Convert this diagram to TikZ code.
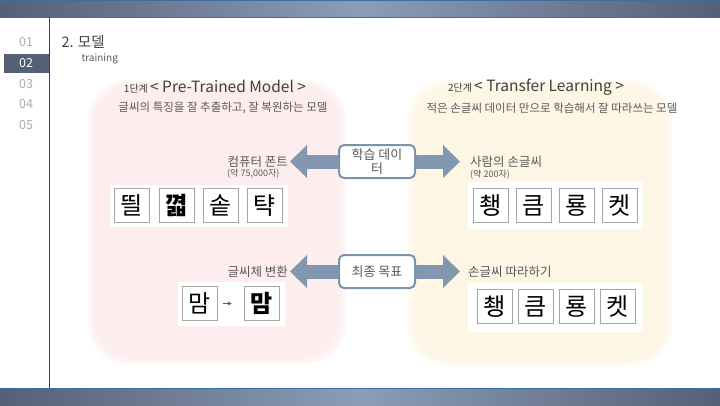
\documentclass[tikz,border=0pt]{standalone}
\usepackage{fontspec}
\setmainfont{Noto Sans CJK KR}
\usetikzlibrary{arrows.meta,backgrounds}
\definecolor{bardark}{RGB}{84, 96, 117}
\definecolor{barlight}{RGB}{140, 157, 184}
\definecolor{barline}{RGB}{62, 108, 165}
\definecolor{numgray}{RGB}{170, 170, 170}
\definecolor{textgray}{RGB}{89, 89, 89}
\definecolor{titlegray}{RGB}{64, 64, 64}
\definecolor{pinkzone}{RGB}{253, 235, 236}
\definecolor{creamzone}{RGB}{254, 245, 226}
\definecolor{arrowblue}{RGB}{132, 151, 176}
\definecolor{boxblue}{RGB}{127, 146, 172}

\tikzset{
  navnum/.style={font=\fontsize{12.5}{14}\selectfont},
  desctext/.style={text=textgray, font=\fontsize{11.5}{13}\selectfont},
  lbltext/.style={text=textgray, inner sep=2pt, font=\fontsize{12.5}{14}\selectfont},
  cnttext/.style={text=textgray, inner sep=2pt, font=\fontsize{9}{10}\selectfont},
  midbox/.style={draw=boxblue, line width=2pt, rounded corners=5pt, fill=white,
    minimum width=76pt, minimum height=33pt, align=center, text=textgray,
    font=\fontsize{13}{14}\selectfont},
  blockarrow/.style={line width=14pt, arrowblue, -{Triangle[width=32pt,length=17pt]}},
  glyph/.style={draw=gray!70, line width=0.8pt, fill=white, minimum width=35pt,
    minimum height=34pt, inner sep=0pt, font=\fontsize{24}{24}\selectfont}
}

\begin{document}
\begin{tikzpicture}[x=1pt, y=-1pt]
\useasboundingbox (0,0) rectangle (720,405);

% Header and footer bars
\shade[left color=bardark, right color=bardark, middle color=barlight] (0,0) rectangle (720,17);
\draw[barline] (0,0.5) -- (720,0.5) (0,17) -- (720,17);
\shade[left color=bardark, right color=bardark, middle color=barlight] (0,388) rectangle (720,405);
\draw[barline] (0,388) -- (720,388);

% Side menu
\draw[titlegray, line width=1pt] (49,17) -- (49,388);
\fill[bardark] (4,54) rectangle (49,73);
\foreach \n/\c [count=\i] in {01/numgray, 02/white, 03/numgray, 04/numgray, 05/numgray}
  \node[navnum, text=\c] (nav\i) at (26, 21.2+\i*20.8) {\n};

% Heading
\node[anchor=west, text=titlegray, font=\fontsize{14.5}{16}\selectfont] (title) at (58,42) {2. 모델};
\node[anchor=west, text=textgray, font=\fontsize{10}{11}\selectfont] (subtitle) at (78,59) {training};

% Soft zones
\begin{scope}[on background layer]
\foreach \k in {0,...,5} {
  \fill[pinkzone, opacity=0.3, rounded corners=40pt] (88+\k*1.5, 80+\k*1.5) rectangle (346-\k*1.5, 364-\k*1.5);
  \fill[creamzone, opacity=0.3, rounded corners=40pt] (407+\k*1.5, 80+\k*1.5) rectangle (672-\k*1.5, 366-\k*1.5);
}
\end{scope}

% Stage titles
\node[text=titlegray] (stage1) at (215,87) {{\fontsize{10}{12}\selectfont 1단계} {\fontsize{15.5}{18}\selectfont < Pre-Trained Model >}};
\node[desctext] (desc1) at (223,108) {글씨의 특징을 잘 추출하고, 잘 복원하는 모델};
\node[text=titlegray] (stage2) at (536,87) {{\fontsize{10}{12}\selectfont 2단계} {\fontsize{15.5}{18}\selectfont < Transfer Learning >}};
\node[desctext] (desc2) at (552,108) {적은 손글씨 데이터 만으로 학습해서 잘 따라쓰는 모델};

% Middle boxes
\node[midbox] (data) at (377,161.5) {학습 데이\\터};
\node[midbox] (goal) at (377,271.5) {최종 목표};

% Labels
\node[lbltext, anchor=east] (fontlbl) at (290,161.5) {컴퓨터 폰트};
\node[cnttext, anchor=west] (fontcnt) at (225,173.5) {(약 75,000자)};
\node[lbltext, anchor=west] (handlbl) at (468,161.5) {사람의 손글씨};
\node[cnttext, anchor=west] (handcnt) at (468,174.5) {(약 200자)};
\node[lbltext, anchor=east] (convlbl) at (290,271.5) {글씨체 변환};
\node[lbltext, anchor=west] (followlbl) at (466,271.5) {손글씨 따라하기};

% Block arrows
\begin{scope}[on background layer]
\draw[blockarrow] (data.center) -- (fontlbl.east);
\draw[blockarrow, shorten >=8pt] (data.center) -- (handlbl.west);
\draw[blockarrow] (goal.center) -- (convlbl.east);
\draw[blockarrow, shorten >=6pt] (goal.center) -- (followlbl.west);
\end{scope}

% Computer fonts
\fill[white] (110,185) rectangle (288,227);
\node[glyph] (fa1) at (132,205.5) {띌};
\node[glyph, font=\fontsize{24}{24}\selectfont\bfseries] (fa2) at (177,205.5) {^^^^aeff};
\node[glyph] (fa3) at (221,205.5) {솥};
\node[glyph] (fa4) at (265,205.5) {탹};

% Human handwriting
\fill[white] (468,182) rectangle (643,229);
\foreach \c [count=\i] in {쵕,큼,룡,켓}
  \node[glyph] (hw\i) at (448+\i*43, 205.5) {\c};

% Font conversion
\fill[white] (178,282) rectangle (285,326);
\node[glyph] (src) at (200,303.5) {맘};
\node[glyph, font=\fontsize{24}{24}\selectfont\bfseries] (dst) at (261.5,303.5) {맘};
\draw[-{Stealth[length=4pt,width=4pt]}, textgray, line width=0.8pt, shorten <=5pt, shorten >=12pt] (src) -- (dst);

% Generated handwriting
\fill[white] (468,283) rectangle (643,332);
\foreach \c [count=\i] in {쵕,큼,룡,켓}
  \node[glyph] (gen\i) at (453.5+\i*41, 306.5) {\c};
\end{tikzpicture}
\end{document}
